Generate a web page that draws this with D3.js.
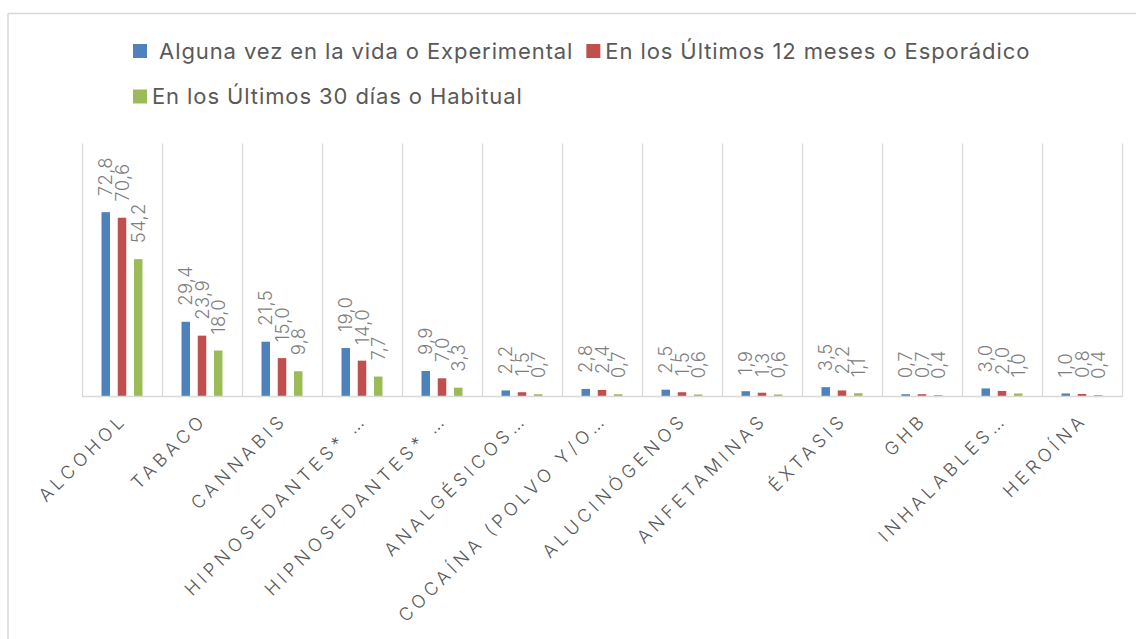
<!DOCTYPE html>
<html>
<head>
<meta charset="utf-8">
<script src="https://cdn.jsdelivr.net/npm/d3@7"></script>
<style>
  html, body { margin: 0; padding: 0; background: #fff; }
  svg { display: block; }
</style>
</head>
<body>
<svg id="chart" width="1136" height="639"></svg>
<script>
// ---- data ----
const categories = [
  "ALCOHOL", "TABACO", "CANNABIS", "HIPNOSEDANTES* …", "HIPNOSEDANTES* … ",
  "ANALGÉSICOS…", "COCAÍNA (POLVO Y/O…", "ALUCINÓGENOS", "ANFETAMINAS",
  "ÉXTASIS", "GHB", "INHALABLES…", "HEROÍNA"
];
const seriesNames = [
  " Alguna vez en la vida o Experimental",
  "En los Últimos 12 meses o Esporádico",
  "En los Últimos 30 días o Habitual"
];
const experimental = [72.8, 29.4, 21.5, 19.0, 9.9, 2.2, 2.8, 2.5, 1.9, 3.5, 0.7, 3.0, 1.0];
const esporadico   = [70.6, 23.9, 15.0, 14.0, 7.0, 1.5, 2.4, 1.5, 1.3, 2.2, 0.7, 2.0, 0.8];
const habitual     = [54.2, 18.0, 9.8, 7.7, 3.3, 0.7, 0.7, 0.6, 0.6, 1.1, 0.4, 1.0, 0.4];
const seriesValues = [experimental, esporadico, habitual];
const colors = ["#4f81bd", "#c0504d", "#9bbb59"];
const yDomain = [0, 100];

// ---- layout ----
const svg = d3.select("#chart");
const W = 1136, H = 639;
const plot = { left: 82, right: 1122, top: 143.5, bottom: 396 };
const FONT = "Inter, 'Noto Sans', sans-serif";

svg.append("rect").attr("width", W).attr("height", H).attr("fill", "#fff");
// outer chart border (top and left visible)
svg.append("line").attr("x1", 8).attr("x2", W).attr("y1", 13.5).attr("y2", 13.5)
  .attr("stroke", "#d9d9d9").attr("stroke-width", 1.5);
svg.append("line").attr("x1", 8).attr("x2", 8).attr("y1", 13.5).attr("y2", H)
  .attr("stroke", "#d9d9d9").attr("stroke-width", 1.5);

const x = d3.scaleBand().domain(categories).range([plot.left, plot.right]).padding(0);
const xs = d3.scaleBand().domain(d3.range(3)).range([-20.5, 20.5]).paddingInner(0.477).paddingOuter(0);
const y = d3.scaleLinear().domain(yDomain).range([plot.bottom, plot.top]);

// vertical category separators
const bounds = categories.map(c => x(c)).concat([plot.right]);
svg.append("g").selectAll("line").data(bounds).join("line")
  .attr("x1", d => Math.round(d) + 0.5).attr("x2", d => Math.round(d) + 0.5)
  .attr("y1", plot.top).attr("y2", plot.bottom)
  .attr("stroke", "#d9d9d9").attr("stroke-width", 1.3);

// bars
const barData = [];
categories.forEach((c, ci) => {
  seriesValues.forEach((vals, si) => {
    barData.push({ c, si, v: vals[ci] });
  });
});
svg.append("g").selectAll("rect").data(barData).join("rect")
  .attr("x", d => x(d.c) + x.bandwidth() / 2 + xs(d.si))
  .attr("width", xs.bandwidth())
  .attr("y", d => y(d.v))
  .attr("height", d => y(0) - y(d.v))
  .attr("fill", d => colors[d.si]);

// baseline
svg.append("line").attr("x1", plot.left).attr("x2", plot.right + 1)
  .attr("y1", plot.bottom + 0.5).attr("y2", plot.bottom + 0.5)
  .attr("stroke", "#d9d9d9").attr("stroke-width", 1.5);

// data labels
const fmt = v => v.toFixed(1).replace(".", ",");
svg.append("g").selectAll("text").data(barData).join("text")
  .attr("transform", d => {
    const cx = x(d.c) + x.bandwidth() / 2 + xs(d.si) + xs.bandwidth() / 2 + 6.5;
    const cy = y(d.v) - 16;
    return `translate(${cx},${cy}) rotate(-90)`;
  })
  .attr("font-family", FONT)
  .attr("font-size", 18.5)
  .attr("font-weight", 300)
  .attr("letter-spacing", 0.3)
  .attr("fill", "#7f7f7f")
  .text(d => fmt(d.v));

// x axis labels
svg.append("g").selectAll("text").data(categories).join("text")
  .attr("transform", c => `translate(${x(c) + x.bandwidth() / 2 + 6},${plot.bottom + 25}) rotate(-45)`)
  .attr("text-anchor", "end")
  .attr("font-family", FONT)
  .attr("font-size", 18)
  .attr("font-weight", 350)
  .attr("letter-spacing", 4.3)
  .attr("fill", "#595959")
  .text(c => c.trim());

// legend (flow layout)
const legend = svg.append("g");
const legX0 = 133, legMaxX = 1122, rowH = 45.5, legY0 = 58.5;
let lx = legX0, ly = legY0;
seriesNames.forEach((name, i) => {
  const g = legend.append("g");
  const t = g.append("text")
    .attr("font-family", FONT)
    .attr("font-size", 22)
    .attr("letter-spacing", 0.9)
    .attr("fill", "#595959")
    .style("white-space", "pre")
    .text(name);
  const tw = t.node().getComputedTextLength();
  const itemW = 14 + 5 + tw;
  if (lx + itemW > legMaxX && lx > legX0) { lx = legX0; ly += rowH; }
  g.append("rect").attr("x", lx).attr("y", ly - 14.5).attr("width", 14).attr("height", 14)
    .attr("fill", colors[i]);
  t.attr("x", lx + 19).attr("y", ly);
  lx += itemW + 13;
});
</script>
</body>
</html>
